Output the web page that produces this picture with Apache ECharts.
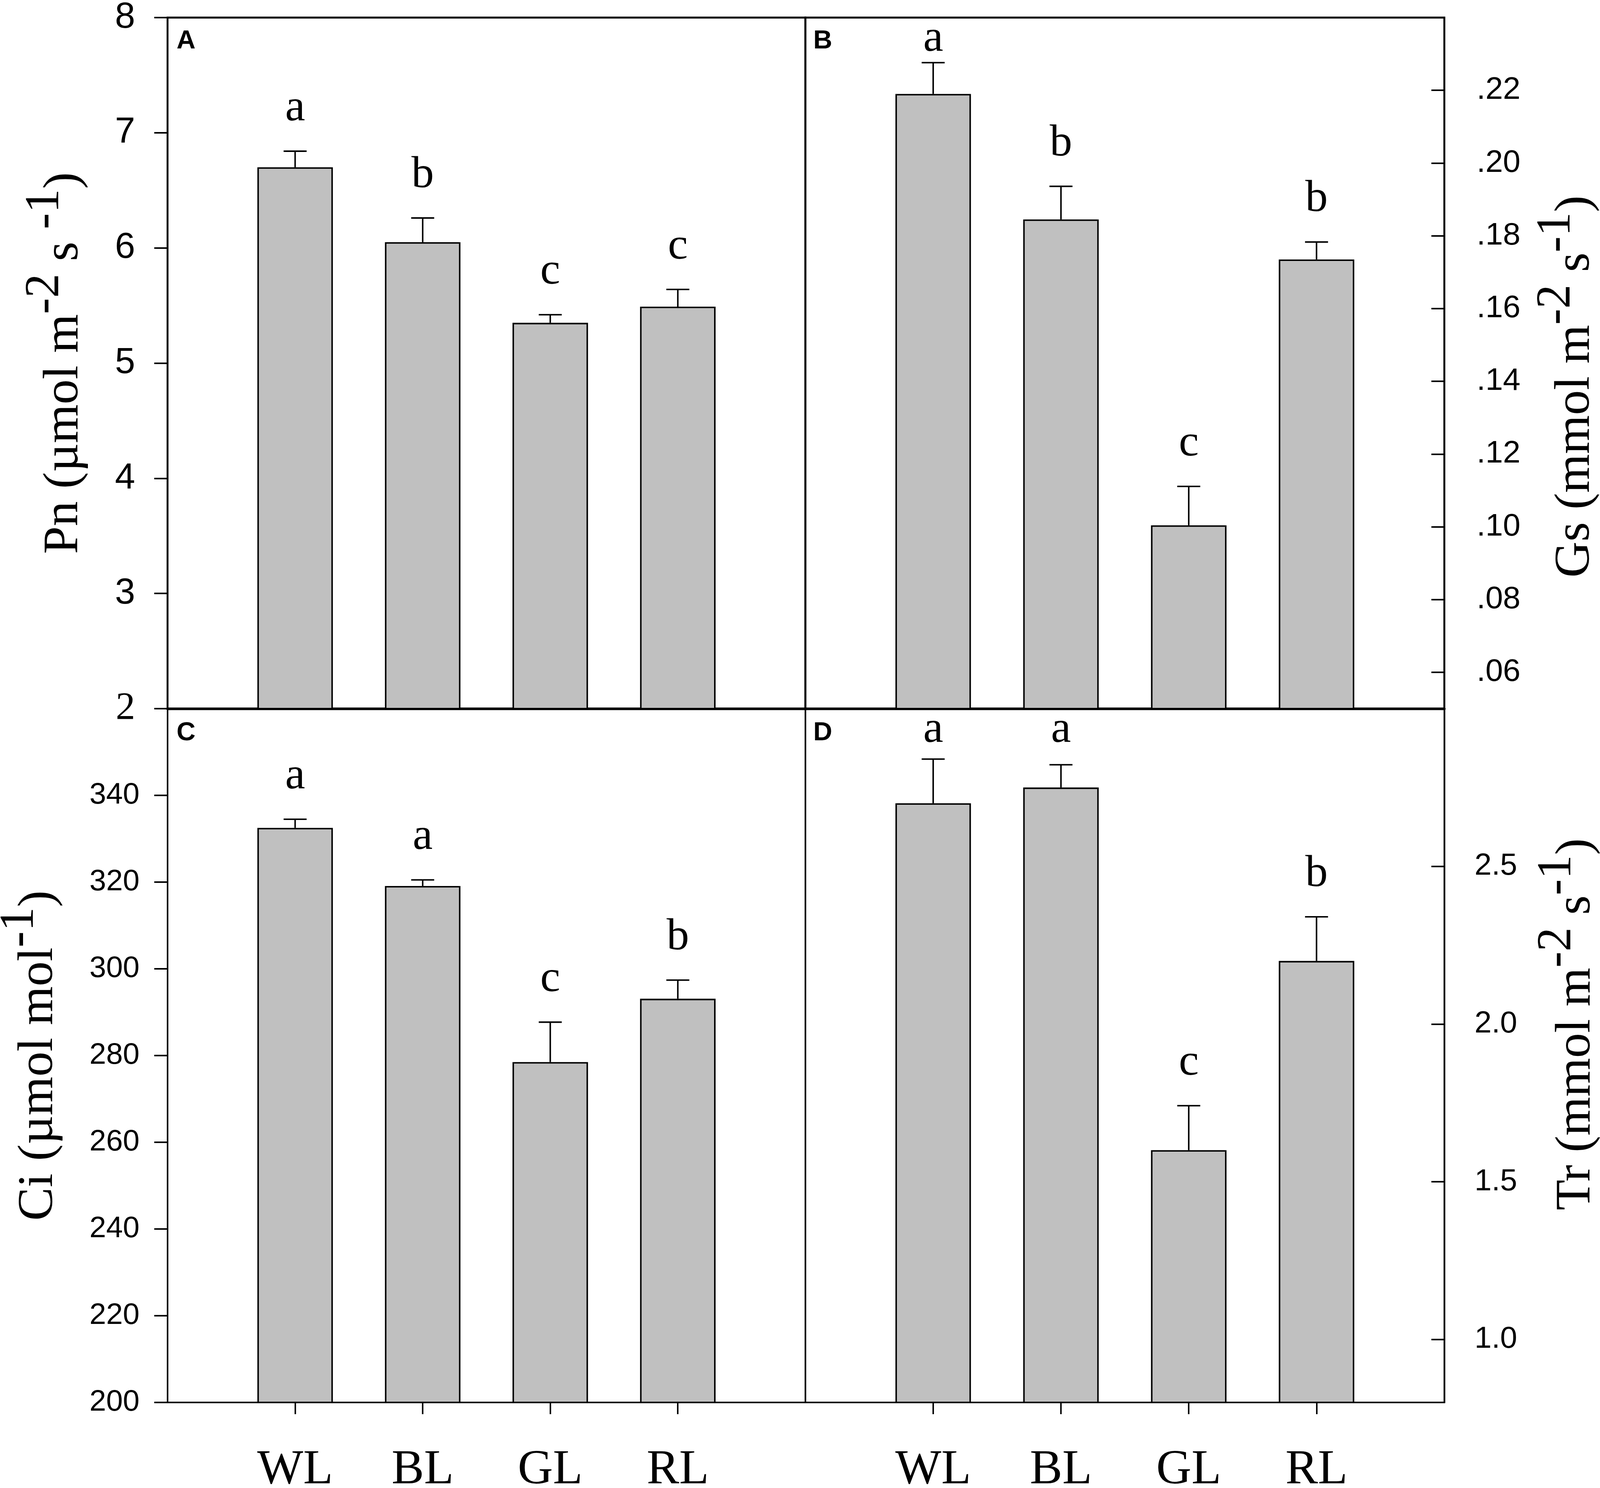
<!DOCTYPE html>
<html>
<head>
<meta charset="utf-8">
<script src="https://cdn.jsdelivr.net/npm/echarts@6/dist/echarts.min.js"></script>
<style>
  html, body { margin: 0; padding: 0; background: #fff; overflow: hidden; }
  #main { width: 100vw; height: 100vh; }
</style>
</head>
<body>
<div id="main"></div>
<script>
// treatments
var categories = ['WL', 'BL', 'GL', 'RL'];

// A: net photosynthesis
var pnMean = [6.70, 6.05, 5.35, 5.49];
var pnErr = [0.14, 0.21, 0.07, 0.15];
var pnSig = ['a', 'b', 'c', 'c'];

// B: stomatal conductance
var gsMean = [0.219, 0.1845, 0.1004, 0.1735];
var gsErr = [0.0086, 0.0091, 0.0107, 0.0048];
var gsSig = ['a', 'b', 'c', 'b'];
var gsTicks = [0.06, 0.08, 0.10, 0.12, 0.14, 0.16, 0.18, 0.20, 0.22];

// C: intercellular CO2
var ciMean = [332.5, 319.1, 278.5, 293.1];
var ciErr = [2.0, 1.4, 9.2, 4.3];
var ciSig = ['a', 'a', 'c', 'b'];
var ciTicks = [200, 220, 240, 260, 280, 300, 320, 340];

// D: transpiration
var trMean = [2.70, 2.75, 1.60, 2.20];
var trErr = [0.14, 0.072, 0.141, 0.14];
var trSig = ['a', 'a', 'c', 'b'];
var trTicks = [1.0, 1.5, 2.0, 2.5];

var xPos = [1, 2, 3, 4];

var SANS = '"Liberation Sans", Arial, sans-serif';
var SERIF = '"Liberation Serif", "Times New Roman", serif';

var myChart = echarts.init(document.getElementById('main'));

// layout was measured on a 4450 x 3809 page, scale it to whatever we got
var sx = myChart.getWidth() / 4450;
var sy = myChart.getHeight() / 3809;
var sf = Math.sqrt(sx * sy);
function X(v) { return v * sx; }
function Y(v) { return v * sy; }
function F(v) { return v * sf; }

// axis titles run vertically, so size them on the height
var nameRich = {
    t: { fontFamily: SERIF, fontSize: Y(128), color: '#000', verticalAlign: 'bottom' },
    s: { fontFamily: SERIF, fontSize: Y(124), color: '#000', verticalAlign: 'bottom', padding: [0, 0, Y(50), 0] }
};

function barSeries(idx, mean) {
    return {
        type: 'bar',
        xAxisIndex: idx,
        yAxisIndex: idx,
        barWidth: X(210),
        silent: true,
        itemStyle: { color: '#c0c0c0', borderColor: '#000', borderWidth: F(4) },
        data: mean.map(function (m, i) { return [xPos[i], m]; })
    };
}

function errSeries(idx, mean, err, sig) {
    return {
        type: 'custom',
        xAxisIndex: idx,
        yAxisIndex: idx,
        silent: true,
        z: 5,
        data: mean.map(function (m, i) { return [xPos[i], m, err[i]]; }),
        renderItem: function (params, api) {
            var base = api.coord([api.value(0), api.value(1)]);
            var top = api.coord([api.value(0), api.value(1) + api.value(2)]);
            var ty = Math.max(top[1] - Y(52), params.coordSys.y + Y(112));
            return {
                type: 'group',
                children: [
                    { type: 'line', shape: { x1: base[0], y1: base[1], x2: top[0], y2: top[1] }, style: { stroke: '#000', lineWidth: F(4) } },
                    { type: 'line', shape: { x1: top[0] - X(32), y1: top[1], x2: top[0] + X(32), y2: top[1] }, style: { stroke: '#000', lineWidth: F(4) } },
                    { type: 'text', x: top[0], y: ty, style: { text: sig[params.dataIndex], fontFamily: SERIF, fontSize: F(120), fill: '#000', align: 'center', verticalAlign: 'bottom' } }
                ]
            };
        }
    };
}

function xAxisFor(idx, showLabels) {
    return {
        type: 'value',
        gridIndex: idx,
        min: 0,
        max: 5,
        splitLine: { show: false },
        axisLine: { show: true, onZero: false, lineStyle: { color: '#000', width: F(showLabels ? 4 : 7) } },
        axisTick: { show: showLabels, customValues: xPos, length: Y(30), lineStyle: { color: '#000', width: F(4) } },
        axisLabel: {
            show: showLabels,
            customValues: xPos,
            margin: Y(112),
            fontFamily: SERIF,
            fontSize: F(130),
            color: '#000',
            formatter: function (v) { return categories[Math.round(v) - 1] || ''; }
        }
    };
}

function panelTitle(text, left, top) {
    return { text: text, left: X(left), top: Y(top), padding: 0, textStyle: { fontFamily: SANS, fontWeight: 'bold', fontSize: F(70), color: '#000' } };
}

function gridAt(left, top, width, height, bw) {
    return {
        left: X(left), top: Y(top), width: X(width), height: Y(height),
        containLabel: false, outerBoundsMode: 'none',
        show: true, borderColor: '#000', borderWidth: F(bw)
    };
}

myChart.setOption(option = {
    animation: false,
    backgroundColor: '#fff',
    title: [
        panelTitle('A', 491, 72),
        panelTitle('B', 2262, 72),
        panelTitle('C', 491, 1843),
        panelTitle('D', 2262, 1843)
    ],
    grid: [
        gridAt(466, 45, 1774, 1769, 5),
        gridAt(2240, 45, 1777, 1769, 5),
        gridAt(466, 1814, 1774, 1776, 4),
        gridAt(2240, 1814, 1777, 1776, 4)
    ],
    xAxis: [
        xAxisFor(0, false),
        xAxisFor(1, false),
        xAxisFor(2, true),
        xAxisFor(3, true)
    ],
    yAxis: [
        {
            type: 'value', gridIndex: 0, position: 'left',
            min: 2, max: 8, interval: 1,
            splitLine: { show: false },
            axisLine: { show: true, onZero: false, lineStyle: { color: '#000', width: F(4) } },
            axisTick: { show: true, length: X(37), lineStyle: { color: '#000', width: F(4) } },
            axisLabel: {
                showMinLabel: true, showMaxLabel: true,
                margin: X(90), fontFamily: SANS, fontSize: F(97), color: '#000',
                formatter: function (v) { return v === 2 ? '{t|2}' : String(v); },
                rich: { t: { fontFamily: SERIF, fontSize: F(104), color: '#000' } }
            },
            name: '{t|Pn (µmol m}{s|-2}{t| s }{s|-1}{t|)}',
            nameLocation: 'middle',
            nameGap: X(218),
            nameTextStyle: { rich: nameRich }
        },
        {
            type: 'value', gridIndex: 1, position: 'right',
            min: 0.05, max: 0.24,
            splitLine: { show: false },
            axisLine: { show: true, onZero: false, lineStyle: { color: '#000', width: F(4) } },
            axisTick: { show: true, inside: true, customValues: gsTicks, length: X(36), lineStyle: { color: '#000', width: F(4) } },
            axisLabel: {
                customValues: gsTicks,
                margin: X(90), fontFamily: SANS, fontSize: F(84), color: '#000',
                formatter: function (v) { return Number(v).toFixed(2).replace(/^0/, ''); }
            },
            name: '{t|Gs (mmol m}{s|-2}{t| s}{s|-1}{t|)}',
            nameLocation: 'middle',
            nameRotate: 90,
            nameGap: X(245),
            nameTextStyle: { rich: nameRich, padding: [0, Y(120), 0, 0] }
        },
        {
            type: 'value', gridIndex: 2, position: 'left',
            min: 200, max: 360,
            splitLine: { show: false },
            axisLine: { show: true, onZero: false, lineStyle: { color: '#000', width: F(4) } },
            axisTick: { show: true, customValues: ciTicks, length: X(37), lineStyle: { color: '#000', width: F(4) } },
            axisLabel: {
                customValues: ciTicks,
                margin: X(78), fontFamily: SANS, fontSize: F(80), color: '#000'
            },
            name: '{t|Ci (µmol mol}{s|-1}{t|)}',
            nameLocation: 'middle',
            nameGap: X(288),
            nameTextStyle: { rich: nameRich }
        },
        {
            type: 'value', gridIndex: 3, position: 'right',
            min: 0.8, max: 3.0,
            splitLine: { show: false },
            axisLine: { show: true, onZero: false, lineStyle: { color: '#000', width: F(4) } },
            axisTick: { show: true, inside: true, customValues: trTicks, length: X(36), lineStyle: { color: '#000', width: F(4) } },
            axisLabel: {
                customValues: trTicks,
                margin: X(84), fontFamily: SANS, fontSize: F(82), color: '#000',
                formatter: function (v) { return Number(v).toFixed(1); }
            },
            name: '{t|Tr (mmol m}{s|-2}{t| s}{s|-1}{t|)}',
            nameLocation: 'middle',
            nameRotate: 90,
            nameGap: X(248),
            nameTextStyle: { rich: nameRich, padding: [0, 0, 0, Y(160)] }
        }
    ],
    series: [
        barSeries(0, pnMean),
        errSeries(0, pnMean, pnErr, pnSig),
        barSeries(1, gsMean),
        errSeries(1, gsMean, gsErr, gsSig),
        barSeries(2, ciMean),
        errSeries(2, ciMean, ciErr, ciSig),
        barSeries(3, trMean),
        errSeries(3, trMean, trErr, trSig)
    ]
});
</script>
</body>
</html>
